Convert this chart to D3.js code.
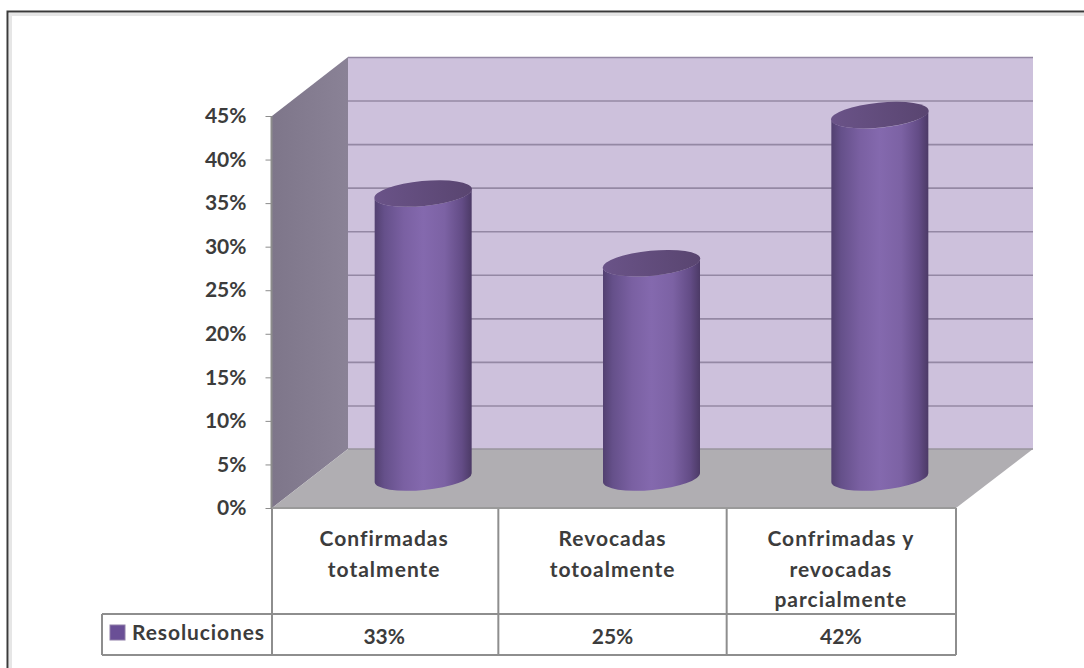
<!DOCTYPE html>
<html><head><meta charset="utf-8">
<script src="https://cdn.jsdelivr.net/npm/d3@7"></script>
<style>html,body{margin:0;padding:0;background:#fff}svg{display:block}text{font-family:Lato,"Open Sans",sans-serif;font-weight:700;fill:#3c3c3c}</style>
</head><body><svg id="c" width="1084" height="668"></svg>
<script>
const categories = [["Confirmadas","totalmente"],["Revocadas","totoalmente"],["Confrimadas y","revocadas","parcialmente"]];
const seriesName = "Resoluciones";
const values = [33, 25, 42];
const tickValues = [0,5,10,15,20,25,30,35,40,45];

const svg = d3.select("#c");
const y = d3.scaleLinear().domain([0,45]).range([508,116]);
const x = d3.scaleBand().domain(d3.range(categories.length)).range([271,956]);
const dx = 76, dy = -59;           // depth of the 3D box
const bottom = y(0), top45 = y(45), left = 272, right = x.range()[1];
const poly = p => p.map(d=>d.join(",")).join(" ");

// outer frame
svg.append("path").attr("d","M10.5,668V14.5H1084").attr("fill","none").attr("stroke","#dcdcdc").attr("stroke-width",3).attr("opacity",.7);
svg.append("path").attr("d","M7.5,668V11.5H1084").attr("fill","none").attr("stroke","#3a3a3a").attr("stroke-width",2);

const defs = svg.append("defs");
const g = defs.append("linearGradient").attr("id","body");
[[0,"#524070"],[.1,"#65508a"],[.3,"#7a60a2"],[.5,"#8469ae"],[.72,"#7c62a4"],[.9,"#634c86"],[1,"#4c3a66"]]
  .forEach(([o,c])=>g.append("stop").attr("offset",o).attr("stop-color",c));
const capGrad = defs.append("linearGradient").attr("id","cap");
capGrad.append("stop").attr("offset",0).attr("stop-color","#6a5388");
capGrad.append("stop").attr("offset",1).attr("stop-color","#594570");
const wallGrad = defs.append("linearGradient").attr("id","wall").attr("x1",0).attr("x2",1);
wallGrad.append("stop").attr("offset",0).attr("stop-color","#7e768a");
wallGrad.append("stop").attr("offset",1).attr("stop-color","#8a8296");

// back wall, side wall and floor
svg.append("polygon").attr("points",poly([[left+dx,bottom+dy],[right+dx+1,bottom+dy],[right+dx+1,top45+dy],[left+dx,top45+dy]])).attr("fill","#cdc1dc");
svg.append("polygon").attr("points",poly([[left,bottom],[left+dx,bottom+dy],[left+dx,top45+dy],[left,top45]])).attr("fill","url(#wall)");
svg.append("polygon").attr("points",poly([[left,bottom],[right,bottom],[right+dx+1,bottom+dy],[left+dx,bottom+dy]])).attr("fill","#b0aeb2");

// gridlines on the wall
svg.append("g").selectAll("line").data(tickValues.slice(1)).join("line")
  .attr("x1",left+dx).attr("x2",right+dx+1)
  .attr("y1",d=>y(d)+dy+.5).attr("y2",d=>y(d)+dy+.5)
  .attr("stroke","#9488a4").attr("stroke-width",1.6);
svg.append("line").attr("x1",left+dx).attr("x2",right+dx+1).attr("y1",bottom+dy).attr("y2",bottom+dy).attr("stroke","#98949e").attr("stroke-width",1.5);

// value axis
const axis = d3.axisLeft(y).tickValues(tickValues).tickFormat(d=>d+"%").tickSize(6).tickPadding(19);
const ax = svg.append("g").attr("transform",`translate(${left-.5},0)`).call(axis);
ax.select(".domain").attr("stroke","#8c8c8c").attr("stroke-width",2).attr("d",`M0,${top45}V${bottom}`);
ax.selectAll(".tick line").attr("stroke","#8c8c8c");
ax.selectAll("text").attr("font-size",21).style("font-family","Lato").attr("fill","#3c3c3c");

// cylinders: the cap sits a little behind the mid-depth of the base
const rx = 48.5, ry = 12.5, tilt = -5.5;
const bars = svg.append("g").selectAll("g").data(values).join("g");
const cx = (d,i)=>x(i)+x.bandwidth()/2+dx/2;
const capY = d=>y(d)+dy/2+2.5;
bars.append("path").attr("d",(d,i)=>{
  const c=cx(d,i), b=bottom+dy/2-1, t=capY(d), tl=Math.tan(tilt*Math.PI/180)*rx;
  return `M${c-rx},${t-tl}L${c-rx},${b-tl}A${rx},${ry} ${tilt} 0 0 ${c+rx},${b+tl}L${c+rx},${t+tl}A${rx},${ry} ${tilt} 0 1 ${c-rx},${t-tl}Z`;
}).attr("fill","url(#body)");
bars.append("ellipse").attr("cx",cx).attr("cy",capY).attr("rx",rx+.5).attr("ry",ry)
  .attr("transform",(d,i)=>`rotate(${tilt} ${cx(d,i)} ${capY(d)})`).attr("fill","url(#cap)");

// data table
const tableBottom = 655, rowTop = 614, legendLeft = 102;
const lines = svg.append("g").attr("stroke","#8e8e8e").attr("stroke-width",2).attr("fill","none");
lines.append("path").attr("d",`M${legendLeft},${rowTop}H${right}M${legendLeft},${tableBottom}H${right}M${legendLeft},${rowTop}V${tableBottom}M${right},${bottom}V${tableBottom}`);
lines.selectAll(".sep").data(d3.range(categories.length)).join("line").attr("class","sep")
  .attr("x1",i=>i?x(i)-1:left).attr("x2",i=>i?x(i)-1:left).attr("y1",bottom).attr("y2",tableBottom);
lines.append("line").attr("x1",left).attr("x2",right).attr("y1",bottom).attr("y2",bottom).attr("stroke","#9a9a9a");

const cats = svg.append("g").selectAll("text").data(categories).join("text")
  .attr("text-anchor","middle").attr("font-size",21).style("letter-spacing","1px")
  .attr("transform",(d,i)=>`translate(${x(i)+x.bandwidth()/2-1},0)`);
cats.selectAll("tspan").data(d=>d).join("tspan").attr("x",0).attr("y",(d,j)=>546+j*30.5).text(d=>d);

svg.append("g").selectAll("text").data(values).join("text")
  .attr("text-anchor","middle").attr("font-size",21)
  .attr("x",(d,i)=>x(i)+x.bandwidth()/2-1).attr("y",644).text(d=>d+"%");

svg.append("rect").attr("x",110).attr("y",625).attr("width",15).attr("height",15).attr("fill","#6a4f96").attr("stroke","#8f7fa8");
svg.append("text").attr("x",132).attr("y",640).attr("font-size",21).style("letter-spacing",".9px").text(seriesName);
</script></body></html>
